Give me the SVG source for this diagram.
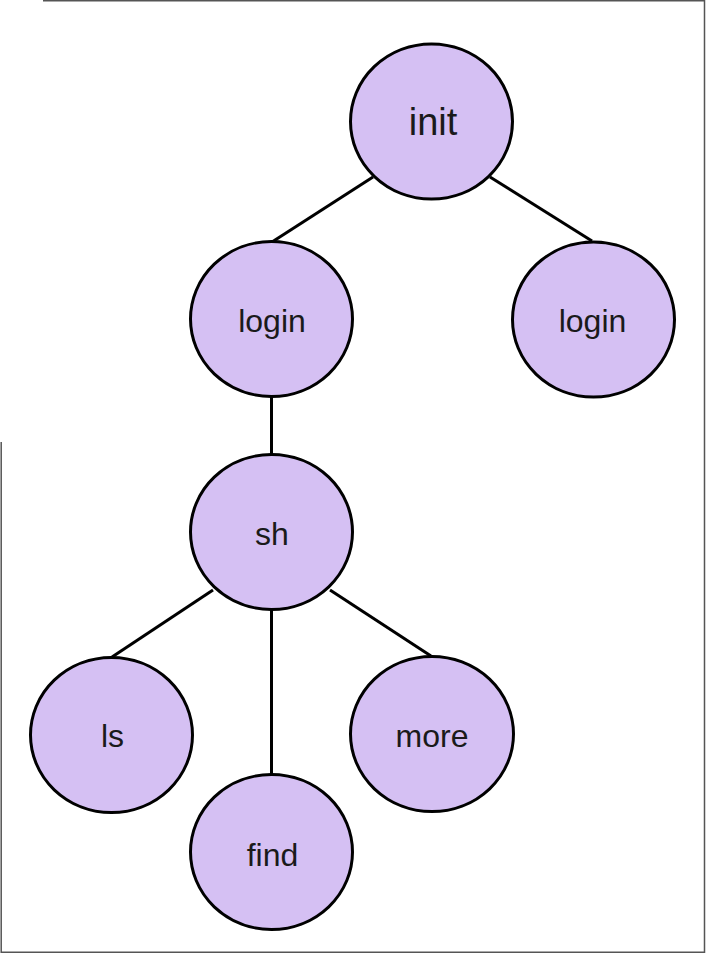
<svg xmlns="http://www.w3.org/2000/svg" width="706" height="953" viewBox="0 0 706 953">
<style>
.node ellipse{fill:#d5c0f3;stroke:#000;stroke-width:3}
.node text{font-family:"Liberation Sans",Arial,sans-serif;font-size:32px;fill:#1a1a1a;text-anchor:middle}
.edges line{stroke:#000;stroke-width:3}
.frame{stroke:#555;stroke-width:1.5;fill:none}
</style>
<rect width="706" height="953" fill="#fff"/>
<g id="frame">
<path class="frame" d="M43 0.8H704.5V952.2H1.2V442"/>
</g>
<g class="edges" id="connectors">
<line x1="373" y1="177" x2="272" y2="242"/>
<line x1="490" y1="177" x2="592" y2="241"/>
<line x1="271.5" y1="396" x2="271.5" y2="454"/>
<line x1="213" y1="590" x2="112" y2="657"/>
<line x1="271.5" y1="610" x2="271.5" y2="774"/>
<line x1="330" y1="590" x2="431" y2="656"/>
</g>
<g class="node" id="n-init"><ellipse cx="431.5" cy="121.5" rx="81" ry="77.5"/><text x="433" y="135" style="font-size:38px">init</text></g>
<g class="node" id="n-login1"><ellipse cx="271.5" cy="319" rx="81" ry="77.5"/><text x="272" y="332">login</text></g>
<g class="node" id="n-login2"><ellipse cx="593.5" cy="319.5" rx="81" ry="77.5"/><text x="592.5" y="332">login</text></g>
<g class="node" id="n-sh"><ellipse cx="271.5" cy="532" rx="81" ry="77.5"/><text x="272" y="545">sh</text></g>
<g class="node" id="n-ls"><ellipse cx="111.5" cy="735" rx="81" ry="77.5"/><text x="112.5" y="747">ls</text></g>
<g class="node" id="n-more"><ellipse cx="432" cy="734" rx="81.5" ry="77.5"/><text x="432" y="747">more</text></g>
<g class="node" id="n-find"><ellipse cx="271.5" cy="852" rx="81" ry="77.5"/><text x="272.5" y="866">find</text></g>
</svg>
